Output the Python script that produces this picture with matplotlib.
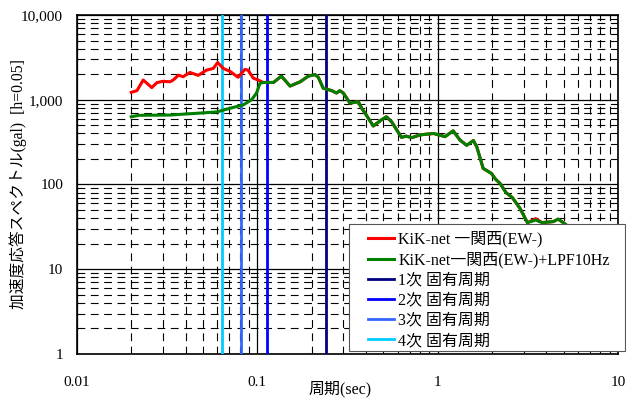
#!/usr/bin/env python3
"""Acceleration response spectrum (KiK-net 一関西 EW-) with natural periods."""
import numpy as np
import matplotlib
matplotlib.use('Agg')
import matplotlib.pyplot as plt
from matplotlib.patches import Rectangle
from matplotlib.ticker import LogLocator, FuncFormatter, NullFormatter

FONT = ['Liberation Serif', 'Noto Sans CJK JP']
plt.rcParams['font.family'] = FONT

# red: raw record (short-period part, before merging with the filtered curve)
red_period = [0.020, 0.0215, 0.0233, 0.026, 0.0277, 0.030, 0.0328, 0.0342, 0.0365,
              0.0388, 0.0423, 0.047, 0.0524, 0.057, 0.0603, 0.0648, 0.0706, 0.0783,
              0.0853, 0.0888, 0.095, 0.101, 0.108]
red_sa = [1224, 1280, 1710, 1390, 1590, 1650, 1630, 1710, 1950,
          1870, 2100, 1940, 2240, 2340, 2750, 2340, 2160, 1840,
          2280, 2240, 1800, 1710, 1600]

# green: LPF 10Hz
green_period = [0.020, 0.022, 0.0328, 0.050, 0.060, 0.070, 0.0836, 0.093, 0.099, 0.1035, 0.108]
green_sa = [630, 655, 660, 700, 720, 790, 870, 1000, 1200, 1560, 1600]

# common part after both curves merge
tail_period = [0.110, 0.123, 0.136, 0.152, 0.173, 0.192, 0.209, 0.218, 0.232, 0.259,
               0.275, 0.287, 0.300, 0.327, 0.363, 0.380, 0.397, 0.44, 0.489, 0.52,
               0.556, 0.63, 0.67, 0.72, 0.80, 0.95, 1.10, 1.22, 1.33, 1.45, 1.58,
               1.65, 1.79, 1.99, 2.10, 2.22, 2.40, 2.60, 2.87, 3.15, 3.50, 3.80,
               4.38, 4.66, 4.98, 5.5, 6.0]
tail_sa = [1600, 1600, 1900, 1450, 1630, 1900, 1980, 1840, 1370, 1280,
           1200, 1280, 1200, 910, 950, 790, 690, 490, 580, 630,
           550, 360, 372, 357, 385, 400, 367, 430, 335, 290, 330,
           278, 155, 135, 115, 103, 80, 70, 52, 35.5, 38, 35.5,
           36.5, 39, 35.5, 30, 26]
red_tail = list(tail_sa)
red_tail[tail_period.index(3.50)] = 39.5

mode_period = [0.239, 0.1127, 0.0809, 0.0635]
mode_label = ['1次 固有周期', '2次 固有周期', '3次 固有周期', '4次 固有周期']
mode_color = ['#000080', '#0000FF', '#3366FF', '#00CCFF']

fig = plt.figure(figsize=(6.26, 3.99), dpi=100)
ax = fig.add_axes([0.123, 0.1128, 0.864, 0.8496])

ax.plot(red_period + tail_period, red_sa + red_tail, color='#FF0000', lw=2.2,
        label='KiK-net 一関西(EW-)', zorder=4)
ax.plot(green_period + tail_period, green_sa + tail_sa, color='#008000', lw=2.2,
        label='KiK-net一関西(EW-)+LPF10Hz', zorder=5)
for p, lab, c in zip(mode_period, mode_label, mode_color):
    ax.axvline(p, color=c, lw=2.0, label=lab, zorder=3)

ax.set_xscale('log')
ax.set_yscale('log')
ax.set_xlim(0.01, 10)
ax.set_ylim(1, 10000)

ax.xaxis.set_major_locator(LogLocator(base=10, numticks=10))
ax.yaxis.set_major_locator(LogLocator(base=10, numticks=10))
ax.xaxis.set_minor_locator(LogLocator(base=10, subs=np.arange(2, 10), numticks=10))
ax.yaxis.set_minor_locator(LogLocator(base=10, subs=np.arange(2, 10), numticks=10))
ax.xaxis.set_major_formatter(FuncFormatter(lambda v, _: f"{v:g}"))
ax.yaxis.set_major_formatter(FuncFormatter(lambda v, _: f"{v:,.0f}"))
ax.xaxis.set_minor_formatter(NullFormatter())
ax.yaxis.set_minor_formatter(NullFormatter())

ax.grid(which='major', color='black', lw=0.9, ls='-')
ax.grid(which='minor', color='black', lw=0.8, ls=(0, (7, 5)))
ax.set_axisbelow(True)
ax.tick_params(which='both', length=0, labelsize=11)
ax.tick_params(axis='x', pad=16)
ax.tick_params(axis='y', pad=10)
for s in ax.spines.values():
    s.set_color('black')
    s.set_linewidth(1.2)

ax.set_xlabel('周期(sec)', fontsize=11.5, labelpad=0)
ax.xaxis.set_label_coords(0.487, -0.078)
ax.set_ylabel('加速度応答スペクトル(gal)  [h=0.05]', fontsize=11.3)
ax.yaxis.set_label_coords(-0.093, 0.5)

# legend frame drawn separately (wider side padding than matplotlib allows)
frame = Rectangle((0.5575, 0.1203), 0.4409, 0.3183, transform=fig.transFigure,
                  facecolor='white', edgecolor='#555555', lw=0.8, zorder=9)
fig.patches.append(frame)
leg = ax.legend(loc='upper left', bbox_to_anchor=(0.5879, 0.421),
                bbox_transform=fig.transFigure, borderaxespad=0, frameon=False,
                fontsize=11.5, handlelength=1.65, handletextpad=0.25,
                labelspacing=0.26, borderpad=0)
leg.set_zorder(10)
ax.set_zorder(1)
fig.artists.append(leg)

fig.savefig('out.png', dpi=100)
